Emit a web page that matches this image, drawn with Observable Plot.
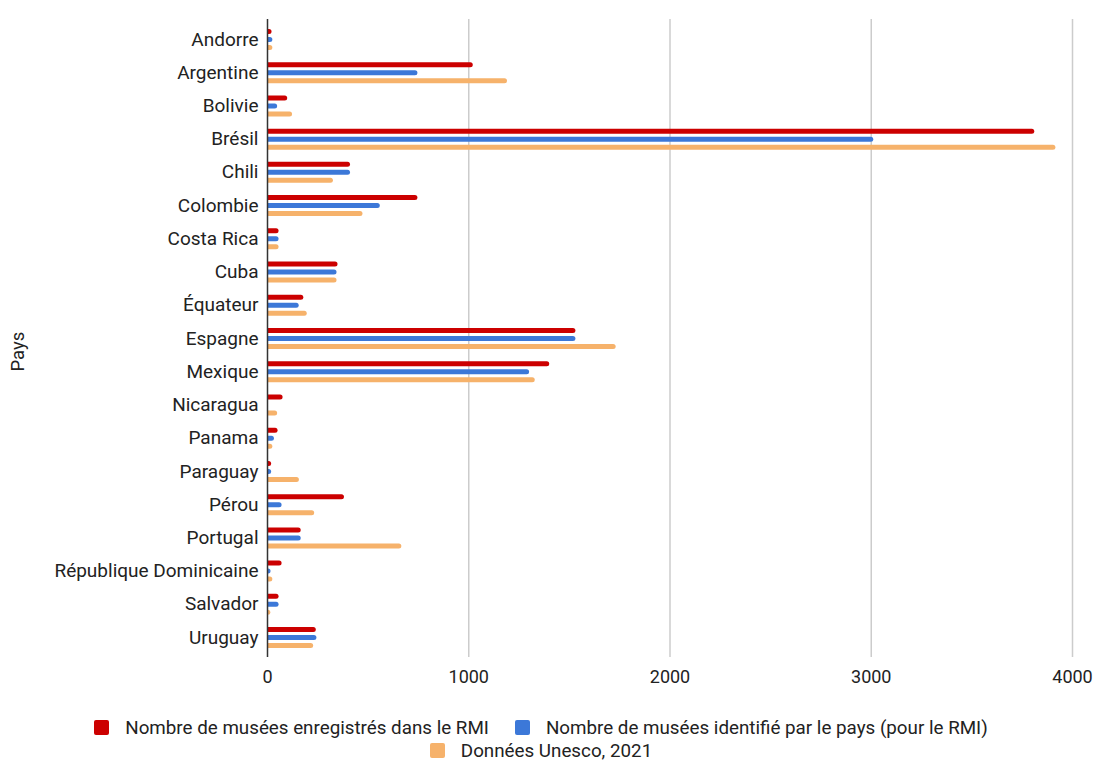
<!DOCTYPE html>
<html><head><meta charset="utf-8">
<script src="https://cdn.jsdelivr.net/npm/d3@7"></script>
<script src="https://cdn.jsdelivr.net/npm/@observablehq/plot@0.6"></script>
<style>
html,body{margin:0;background:#fff;font-family:Roboto,sans-serif;overflow:hidden;}
#chart svg{display:block;}
#legend{width:1094px;box-sizing:border-box;padding-right:12px;margin-top:14px;font-size:18.8px;color:#222;}
.row{display:flex;justify-content:center;align-items:center;line-height:18px;}
.row1{height:27px;}
.row2{height:19px;}
.item{display:flex;align-items:center;margin:0 13px;}
.sw{width:15px;height:15px;border-radius:2px;margin-right:16px;}
</style></head><body><div id="chart"></div><div id="legend"></div>
<script>
const countries = ["Andorre","Argentine","Bolivie","Brésil","Chili","Colombie","Costa Rica","Cuba","Équateur","Espagne","Mexique","Nicaragua","Panama","Paraguay","Pérou","Portugal","République Dominicaine","Salvador","Uruguay"];
const rmi       = [10, 1010, 88, 3800, 400, 735, 45, 338, 168, 1520, 1390, 65, 40, 8, 370, 155, 60, 45, 230];
const identifie = [14, 735, 38, 3000, 400, 548, 45, 333, 145, 1520, 1290, 0, 22, 8, 60, 155, 5, 45, 233];
const unesco    = [14, 1180, 112, 3905, 315, 462, 45, 333, 185, 1720, 1318, 38, 14, 146, 222, 655, 14, 4, 217];
const seriesNames = ["Nombre de musées enregistrés dans le RMI","Nombre de musées identifié par le pays (pour le RMI)","Données Unesco, 2021"];
const seriesColors = ["#cc0000","#3c78d8","#f6b26b"];
const xTicks = [0, 1000, 2000, 3000, 4000];

const rows = countries.map((c, i) => ({country: c, v0: rmi[i], v1: identifie[i], v2: unesco[i]}));
const offsets = [-8, 0, 8];
const barMarks = [0, 1, 2].map(k => Plot.ruleY(rows.filter(d => d["v" + k] > 0), {
  y: "country", x1: 0, x2: "v" + k, dy: offsets[k],
  stroke: seriesColors[k], strokeWidth: 5, strokeLinecap: "round", clip: true
}));

const chart = Plot.plot({
  width: 1094, height: 700,
  marginLeft: 267, marginRight: 22, marginTop: 19, marginBottom: 43,
  style: {fontFamily: "Roboto, sans-serif", fontSize: "19px", color: "#222", background: "#fff"},
  x: {domain: [0, 4000], ticks: xTicks, tickSize: 0, tickPadding: 13, label: null, tickFormat: d3.format("d")},
  y: {type: "point", domain: countries, padding: 0.6, round: false, tickSize: 0, tickPadding: 9, label: null},
  marks: [
    Plot.ruleX(xTicks.slice(1), {stroke: "#cccccc", strokeWidth: 1.5}),
    ...barMarks,
    Plot.ruleX([0], {stroke: "#333", strokeWidth: 1.5}),
    Plot.axisX({ticks: xTicks, tickSize: 0, tickPadding: 13, tickFormat: d3.format("d"), fontSize: 18, label: null}),
    Plot.axisY({tickSize: 0, tickPadding: 9, label: null}),
    Plot.text(["Pays"], {frameAnchor: "left", dx: -249, dy: 33, rotate: -90, fontSize: 18.5, fill: "#222"})
  ]
});
document.getElementById("chart").appendChild(chart);

const legend = document.getElementById("legend");
const groups = [[0, 1], [2]];
groups.forEach((g, gi) => {
  const row = document.createElement("div");
  row.className = "row row" + (gi + 1);
  for (const k of g) {
    const it = document.createElement("div");
    it.className = "item";
    it.innerHTML = `<span class="sw" style="background:${seriesColors[k]}"></span><span>${seriesNames[k]}</span>`;
    row.appendChild(it);
  }
  legend.appendChild(row);
});
</script></body></html>
